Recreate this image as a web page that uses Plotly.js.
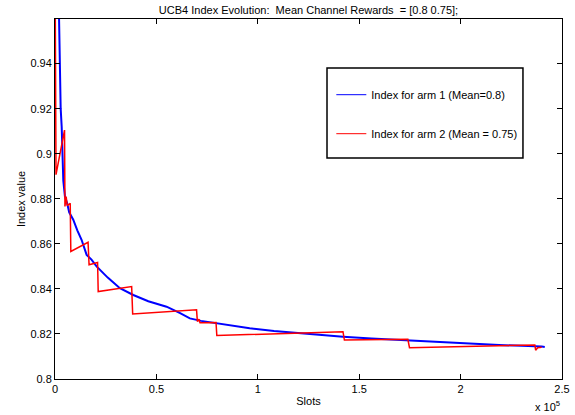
<!DOCTYPE html>
<html>
<head>
<meta charset="utf-8">
<script src="https://cdn.plot.ly/plotly-3.0.1.min.js"></script>
<style>html,body{margin:0;padding:0;background:#fff;}#chart{width:575px;height:415px;}</style>
</head>
<body>
<div id="chart"></div>
<script>
// Arm 1 index (blue)
const arm1Slots = [1900, 2300, 2800, 3300, 3700, 4100, 4900, 6000, 7000, 9000, 11000, 13100, 15600, 18000, 20500, 22200, 26000, 32000, 38600, 46000, 55000, 61700, 66500, 72000, 79700, 88000, 96000, 108000, 120800, 142000, 156000, 170000, 195000, 219000, 240000, 241500];
const arm1Index = [0.965, 0.94, 0.92, 0.912, 0.90, 0.888, 0.881, 0.878, 0.874, 0.8707, 0.866, 0.8618, 0.8551, 0.853, 0.850, 0.8484, 0.845, 0.8403, 0.8373, 0.8345, 0.8321, 0.8292, 0.8269, 0.8258, 0.8247, 0.8236, 0.8225, 0.8213, 0.8203, 0.8188, 0.818, 0.8173, 0.8162, 0.8151, 0.8144, 0.8142];
// Arm 2 index (red)
const arm2Slots = [0, 500, 4700, 4900, 5500, 6000, 7500, 7800, 16300, 16800, 21000, 21300, 37800, 38300, 69800, 70200, 71000, 71500, 79400, 79800, 142000, 142700, 174000, 174800, 236600, 237000, 238000, 240000];
const arm2Index = [0.99, 0.8907, 0.9105, 0.8766, 0.881, 0.877, 0.878, 0.8566, 0.8607, 0.8507, 0.8517, 0.8388, 0.841, 0.8289, 0.8307, 0.8255, 0.8265, 0.8250, 0.8251, 0.8193, 0.821, 0.8173, 0.8176, 0.8139, 0.8151, 0.8128, 0.8139, 0.8141];

const seriesNames = ["Index for arm 1 (Mean=0.8)", "Index for arm 2 (Mean = 0.75)"];
const xTickVals = [0, 50000, 100000, 150000, 200000, 250000];
const xTickText = ["0", "0.5", "1", "1.5", "2", "2.5"];
const yTickVals = [0.8, 0.82, 0.84, 0.86, 0.88, 0.9, 0.92, 0.94];
const yTickText = ["0.8", "0.82", "0.84", "0.86", "0.88", "0.9", "0.92", "0.94"];

const font = {family: "Liberation Sans, Arial, sans-serif", size: 11, color: "#000"};

const traces = [
  {x: arm1Slots, y: arm1Index, mode: "lines", name: seriesNames[0], showlegend: false,
   line: {color: "#0000ff", width: 2}},
  {x: arm2Slots, y: arm2Index, mode: "lines", name: seriesNames[1], showlegend: false,
   line: {color: "#ff0000", width: 1.5}},
  // legend entries (thin line samples, as in the reference legend)
  {x: [null], y: [null], mode: "lines", name: seriesNames[0], legendgroup: "a", line: {color: "#0000ff", width: 1}},
  {x: [null], y: [null], mode: "lines", name: seriesNames[1], legendgroup: "b", line: {color: "#ff0000", width: 1}}
];

const layout = {
  width: 575, height: 415,
  margin: {l: 55, r: 13, t: 19, b: 36},
  paper_bgcolor: "#fff", plot_bgcolor: "#fff",
  font: font,
  title: {text: "UCB4 Index Evolution:  Mean Channel Rewards  = [0.8 0.75];", font: {family: font.family, size: 11, color: "#000"},
          x: 0.5365, xanchor: "center", y: 0.976, yref: "container", yanchor: "middle"},
  xaxis: {range: [0, 250000], tickvals: xTickVals, ticktext: xTickText, ticks: "inside", ticklen: 5, tickcolor: "#000",
          showline: true, linecolor: "#000", linewidth: 1, mirror: "ticks", showgrid: false, zeroline: false,
          title: {text: "Slots", font: font, standoff: 3}, tickfont: font},
  yaxis: {range: [0.8, 0.9598], tickvals: yTickVals, ticktext: yTickText, ticks: "inside", ticklen: 5, tickcolor: "#000",
          showline: true, linecolor: "#000", linewidth: 1, mirror: "ticks", showgrid: false, zeroline: false,
          title: {text: "Index value", font: font, standoff: 2}, tickfont: font},
  showlegend: true,
  legend: {x: 0.545, y: 0.83, xanchor: "left", yanchor: "top", bgcolor: "rgba(0,0,0,0)", borderwidth: 0,
           font: font, tracegroupgap: 20, traceorder: "grouped"},
  shapes: [{type: "rect", xref: "paper", yref: "paper", x0: 0.5365, x1: 0.923, y0: 0.614, y1: 0.864,
            line: {color: "#000", width: 1.5}, fillcolor: "rgba(0,0,0,0)", layer: "above"}],
  annotations: [{text: "x 10<sup>5</sup>", xref: "paper", yref: "paper", x: 0.972, y: -0.075, showarrow: false,
                 xanchor: "center", yanchor: "middle", font: font}]
};

Plotly.newPlot("chart", traces, layout, {displayModeBar: false, staticPlot: true});
</script>
</body>
</html>
